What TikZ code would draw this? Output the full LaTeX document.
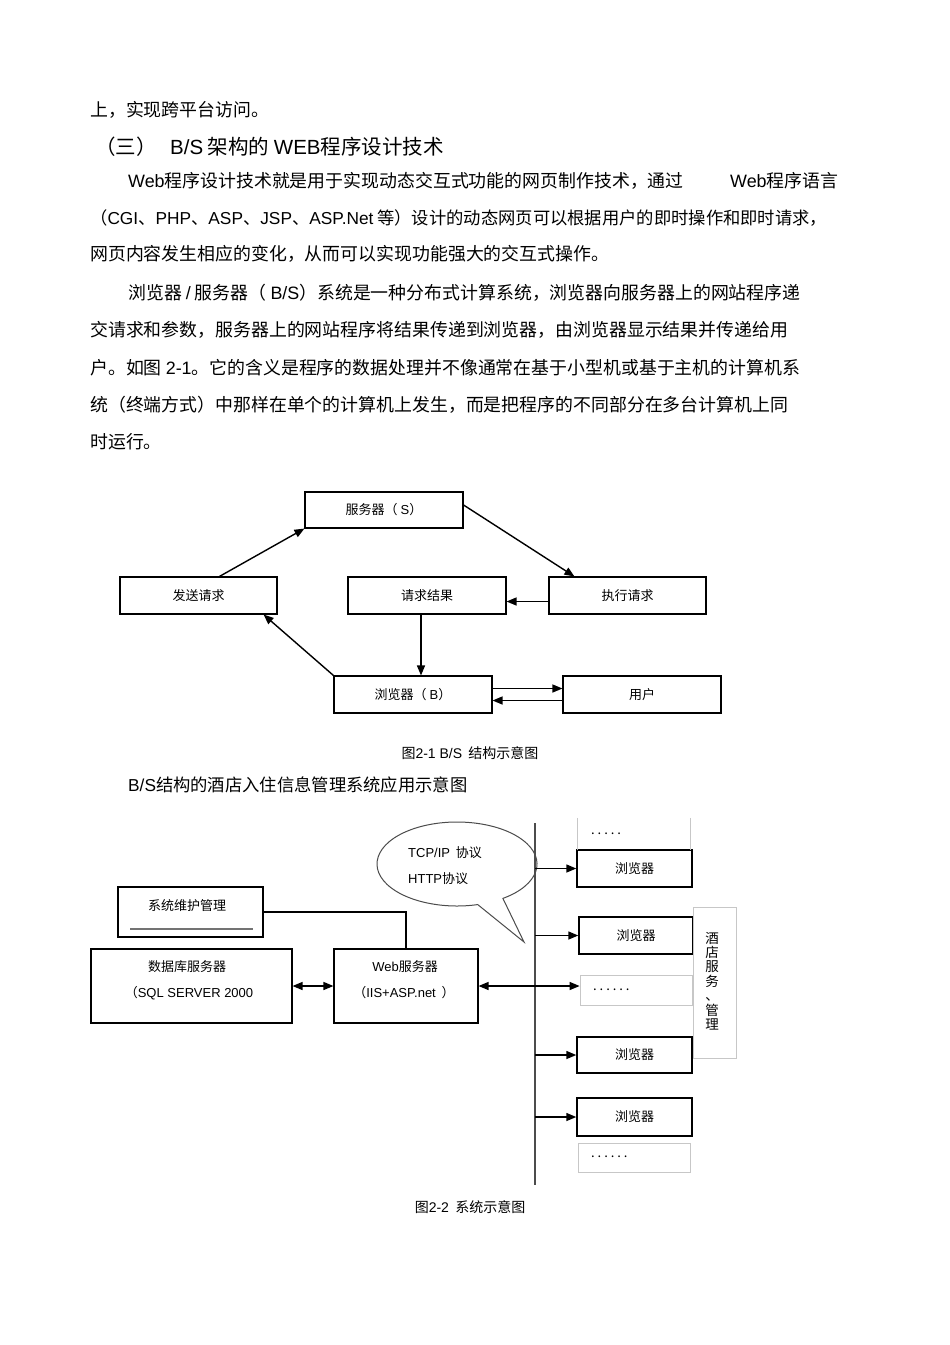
\documentclass[tikz,border=0pt]{standalone}
\usepackage{fontspec}
\setmainfont{Noto Sans CJK SC}
\newfontfamily\latf{Liberation Sans}
\newcommand\LT[1]{{\latf #1}}
\usetikzlibrary{arrows.meta,calc}
\begin{document}
\begin{tikzpicture}[x=1pt,y=-1pt,
  body/.style={anchor=west,inner sep=0pt,font=\fontsize{17.9}{20}\selectfont},
  head/.style={anchor=west,inner sep=0pt,font=\fontsize{20.5}{24}\selectfont},
  captxt/.style={inner sep=0pt,font=\fontsize{14}{16}\selectfont},
  lab/.style={inner sep=0pt,font=\fontsize{13}{15}\selectfont},
  box/.style={draw,line width=1.1pt,inner sep=0pt,font=\fontsize{13}{15}\selectfont},
  bbox/.style={draw,line width=1.4pt,inner sep=0pt,font=\fontsize{13}{15}\selectfont},
  gbox/.style={draw=black!22,line width=0.8pt,inner sep=0pt},
  arr/.style={line width=1.4pt,-{Triangle[length=10pt,width=8pt]}},
  darr/.style={line width=1.4pt,{Triangle[length=10pt,width=8pt]}-{Triangle[length=10pt,width=8pt]}}]
\useasboundingbox (0,0) rectangle (950,1345);
\fill[white] (0,0) rectangle (950,1345);

% ---------- body text ----------
\node[body] (t1) at (90,110) {上，实现跨平台访问。};
\node[head] (h1) at (95,147) {（三）};
\node[head] (h2) at (170,147) {\LT{B/S} 架构的 \LT{WEB}程序设计技术};
\node[body] (t3a) at (128,181) {\LT{Web}程序设计技术就是用于实现动态交互式功能的网页制作技术，通过};
\node[body] (t3b) at (730,181) {\LT{Web}程序语言};
\node[body,font=\fontsize{17.3}{20}\selectfont] (t4) at (90,218) {（\LT{CGI}、\LT{PHP}、\LT{ASP}、\LT{JSP}、\LT{ASP.Net} 等）设计的动态网页可以根据用户的即时操作和即时请求，};
\node[body] (t5) at (90,254) {网页内容发生相应的变化，从而可以实现功能强大的交互式操作。};
\node[body] (t6) at (128,293) {浏览器 \LT{/} 服务器（ \LT{B/S}）系统是一种分布式计算系统，浏览器向服务器上的网站程序递};
\node[body] (t7) at (90,330) {交请求和参数，服务器上的网站程序将结果传递到浏览器，由浏览器显示结果并传递给用};
\node[body] (t8) at (90,368) {户。如图 \LT{2-1}。它的含义是程序的数据处理并不像通常在基于小型机或基于主机的计算机系};
\node[body] (t9) at (90,405) {统（终端方式）中那样在单个的计算机上发生，而是把程序的不同部分在多台计算机上同};
\node[body] (t10) at (90,442) {时运行。};

% ---------- figure 2-1 ----------
\node[box,minimum width=158,minimum height=36] (srv) at (384,510) {服务器（ \LT{S}）};
\node[box,minimum width=157,minimum height=37] (send) at (198.5,595.5) {发送请求};
\node[box,minimum width=158,minimum height=37] (res) at (427,595.5) {请求结果};
\node[box,minimum width=157,minimum height=37] (exe) at (627.5,595.5) {执行请求};
\node[box,minimum width=158,minimum height=37] (brw) at (413,694.5) {浏览器（ \LT{B}）};
\node[box,minimum width=158,minimum height=37] (usr) at (642,694.5) {用户};

\draw[arr] ($(send.north west)+(100,0)$) -- (srv.south west);
\draw[arr] ($(srv.east)+(0,-5)$) -- ($(exe.north west)+(26,0)$);
\draw[arr] ($(exe.west)+(0,6)$) -- ($(res.east)+(0,6)$);
\draw[arr] ($(res.south)+(-6,0)$) -- ($(brw.north)+(8,0)$);
\draw[arr] (brw.north west) -- ($(send.south east)+(-14,0)$);
\draw[arr] ($(brw.east)+(0,-6)$) -- ($(usr.west)+(0,-6)$);
\draw[arr] ($(usr.west)+(0,6)$) -- ($(brw.east)+(0,6)$);

\node[captxt] (c1) at (470,753) {图\LT{2-1 B/S}\ \ 结构示意图};
\node[body,font=\fontsize{17.3}{20}\selectfont] (t11) at (128,785) {\LT{B/S}结构的酒店入住信息管理系统应用示意图};

% ---------- figure 2-2 ----------
\coordinate (bt) at (535,823);
\coordinate (bb) at (535,1185);

% callout
\draw[black!70,line width=1pt,fill=white] (502.9,898.4) arc[start angle=55,end angle=-285,x radius=80,y radius=42] -- (524,942) -- cycle;
\node[lab,anchor=west] (tcp) at (408,853) {\LT{TCP/IP}\ \ 协议};
\node[lab,anchor=west] (http) at (408,879) {\LT{HTTP}协议};

\draw[black!70,line width=1.4pt] (bt) -- (bb);

\node[draw,line width=1.7pt,minimum width=145,minimum height=50,inner sep=0pt] (maint) at (190.5,912) {};
\node[lab] (maintt) at (187,906) {系统维护管理};
\draw[black!55,line width=1.5pt] (130,929) -- (253,929);

\node[box,minimum width=201,minimum height=74] (db) at (191.5,986) {};
\node[lab] (dbt1) at (187,967) {数据库服务器};
\node[lab] (dbt2) at (189,993) {（\LT{SQL SERVER 2000}};
\node[box,minimum width=144,minimum height=74] (web) at (406,986) {};
\node[lab] (webt1) at (405,967) {\LT{Web}服务器};
\node[lab] (webt2) at (404,993) {（\LT{IIS+ASP.net}\ \ ）};

\draw[line width=1.1pt] (maint.east) -| (web.north);
\draw[darr] (db.east) -- (web.west);

\node[bbox,minimum width=115,minimum height=37] (b1) at (634.5,868.5) {浏览器};
\node[bbox,minimum width=114,minimum height=37] (b2) at (636,935.5) {浏览器};
\node[bbox,minimum width=115,minimum height=36] (b3) at (634.5,1055) {浏览器};
\node[bbox,minimum width=115,minimum height=38] (b4) at (634.5,1117) {浏览器};

\node[inner sep=0pt,minimum width=112,minimum height=32] (d1) at (634,834) {};
\draw[black!22,line width=0.8pt] (d1.north west) -- (d1.south west);
\draw[black!22,line width=0.8pt] (d1.north east) -- (d1.south east);
\node[lab,anchor=west] (d1t) at (591,834) {.\ .\ .\ .\ .};
\node[gbox,minimum width=112,minimum height=30] (d2) at (636,990) {};
\node[lab,anchor=west] (d2t) at (593,990) {.\ .\ .\ .\ .\ .};
\node[gbox,minimum width=112,minimum height=29] (d3) at (634,1157.5) {};
\node[lab,anchor=west] (d3t) at (591,1157) {.\ .\ .\ .\ .\ .};

\node[gbox,minimum width=43,minimum height=151] (hotel) at (714.5,982.5) {};
\node[lab,align=center,font=\fontsize{13.5}{14.4}\selectfont] (hotelt) at (712,981) {酒\\店\\服\\务\\、\\管\\理};

\draw[arr] (b1.west -| bt) -- (b1.west);
\draw[arr] (b2.west -| bt) -- (b2.west);
\draw[arr] (b3.west -| bt) -- (b3.west);
\draw[arr] (b4.west -| bt) -- (b4.west);
\draw[darr] (web.east) -- (web.east -| d2.west);

\node[captxt] (c2) at (470,1207) {图\LT{2-2}\ \ 系统示意图};
\end{tikzpicture}
\end{document}
